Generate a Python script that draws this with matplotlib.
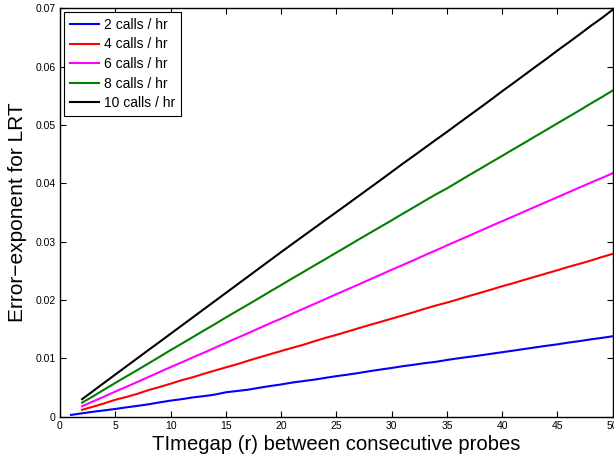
import matplotlib
matplotlib.use("Agg")
import matplotlib.pyplot as plt

plt.rcParams['font.family'] = ['Liberation Sans', 'DejaVu Sans']

x_blue = list(range(1, 51))
x_rest = list(range(2, 51))

blue = [0.00030, 0.00058, 0.00085, 0.00108, 0.00132, 0.00160, 0.00185, 0.00212, 0.00245, 0.00275,
        0.00300, 0.00330, 0.00352, 0.00378, 0.00418, 0.00440, 0.00462, 0.00495, 0.00525, 0.00552,
        0.00585, 0.00610, 0.00635, 0.00665, 0.00695, 0.00720, 0.00748, 0.00780, 0.00808, 0.00835,
        0.00865, 0.00890, 0.00918, 0.00940, 0.00972, 0.01000, 0.01025, 0.01050, 0.01078, 0.01105,
        0.01132, 0.01160, 0.01188, 0.01215, 0.01240, 0.01270, 0.01295, 0.01325, 0.01350, 0.01378]

red = [0.00118, 0.00172, 0.00228, 0.00290, 0.00338, 0.00392, 0.00455, 0.00508, 0.00565,
       0.00625, 0.00675, 0.00735, 0.00790, 0.00845, 0.00898, 0.00958, 0.01015, 0.01070, 0.01125,
       0.01180, 0.01232, 0.01292, 0.01350, 0.01402, 0.01458, 0.01515, 0.01572, 0.01625, 0.01680,
       0.01735, 0.01790, 0.01850, 0.01905, 0.01955, 0.02010, 0.02068, 0.02122, 0.02178, 0.02235,
       0.02288, 0.02345, 0.02400, 0.02455, 0.02510, 0.02568, 0.02620, 0.02675, 0.02735, 0.02790]

magenta = [0.00180, 0.00262, 0.00345, 0.00430, 0.00512, 0.00595, 0.00680, 0.00765, 0.00850,
           0.00930, 0.01015, 0.01095, 0.01180, 0.01265, 0.01348, 0.01430, 0.01515, 0.01600, 0.01680,
           0.01765, 0.01848, 0.01932, 0.02015, 0.02100, 0.02182, 0.02265, 0.02350, 0.02432, 0.02518,
           0.02600, 0.02682, 0.02768, 0.02850, 0.02935, 0.03018, 0.03100, 0.03185, 0.03268, 0.03350,
           0.03432, 0.03515, 0.03598, 0.03680, 0.03762, 0.03845, 0.03928, 0.04010, 0.04090, 0.04172]

green = [0.00240, 0.00350, 0.00465, 0.00578, 0.00690, 0.00800, 0.00912, 0.01025, 0.01140,
         0.01250, 0.01362, 0.01475, 0.01585, 0.01700, 0.01810, 0.01920, 0.02032, 0.02145, 0.02255,
         0.02368, 0.02478, 0.02590, 0.02700, 0.02812, 0.02922, 0.03035, 0.03145, 0.03255, 0.03365,
         0.03478, 0.03588, 0.03700, 0.03810, 0.03912, 0.04025, 0.04138, 0.04248, 0.04360, 0.04470,
         0.04582, 0.04692, 0.04805, 0.04915, 0.05028, 0.05138, 0.05250, 0.05365, 0.05475, 0.05590]

black = [0.00300, 0.00440, 0.00582, 0.00722, 0.00862, 0.01002, 0.01142, 0.01280, 0.01420,
         0.01560, 0.01700, 0.01840, 0.01980, 0.02120, 0.02260, 0.02400, 0.02540, 0.02680, 0.02820,
         0.02958, 0.03095, 0.03232, 0.03370, 0.03505, 0.03642, 0.03780, 0.03918, 0.04055, 0.04195,
         0.04335, 0.04470, 0.04608, 0.04745, 0.04880, 0.05020, 0.05158, 0.05295, 0.05435, 0.05578,
         0.05715, 0.05855, 0.05995, 0.06132, 0.06275, 0.06412, 0.06552, 0.06695, 0.06830, 0.06975]

labels = ['2 calls / hr', '4 calls / hr', '6 calls / hr', '8 calls / hr', '10 calls / hr']
xticks = [0, 5, 10, 15, 20, 25, 30, 35, 40, 45, 50]
yticks = [0, 0.01, 0.02, 0.03, 0.04, 0.05, 0.06, 0.07]
ytick_labels = ['0', '0.01', '0.02', '0.03', '0.04', '0.05', '0.06', '0.07']

fig = plt.figure(figsize=(6.14, 4.55), dpi=100)
ax = fig.add_axes([0.0977, 0.0842, 0.9003, 0.8978])

ax.plot(x_blue, blue, color=(0, 0, 1), lw=1.5, label=labels[0])
ax.plot(x_rest, red, color=(1, 0, 0), lw=1.5, label=labels[1])
ax.plot(x_rest, magenta, color=(1, 0, 1), lw=1.5, label=labels[2])
ax.plot(x_rest, green, color=(0, 0.5, 0), lw=1.5, label=labels[3])
ax.plot(x_rest, black, color=(0, 0, 0), lw=1.5, label=labels[4])

ax.set_xlim(0, 50)
ax.set_ylim(0, 0.07)
ax.set_xticks(xticks)
ax.set_xticklabels([str(t) for t in xticks])
ax.set_yticks(yticks)
ax.set_yticklabels(ytick_labels)
ax.tick_params(direction='in', top=True, right=True, length=4, width=0.8, labelsize=7.5, pad=3)
for s in ax.spines.values():
    s.set_linewidth(1.0)

ax.set_xlabel('TImegap (r) between consecutive probes', fontsize=14.6, labelpad=3)
ax.set_ylabel('Error\u2212exponent for LRT', fontsize=15, labelpad=6)

leg = ax.legend(loc='upper left', fontsize=10, frameon=True, fancybox=False,
                edgecolor='black', framealpha=1, borderpad=0.4, handlelength=2.1,
                handletextpad=0.4, labelspacing=0.4, borderaxespad=0.3)
leg.get_frame().set_linewidth(0.8)

fig.savefig('out.png', dpi=100)
